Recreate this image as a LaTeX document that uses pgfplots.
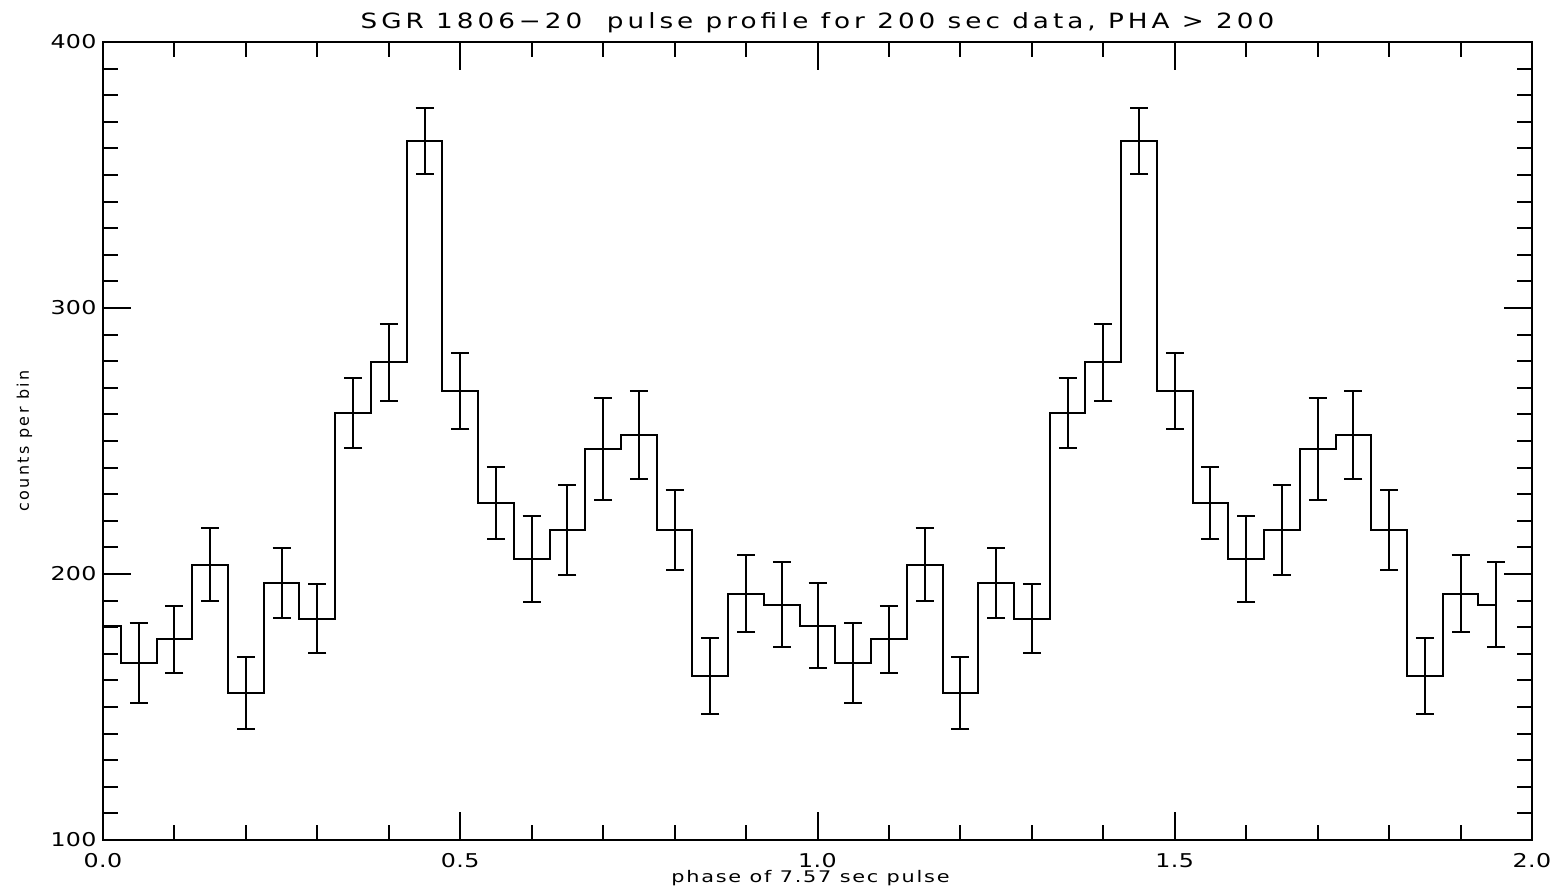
\documentclass[border=0pt]{standalone}
\usepackage{fontspec}
\usepackage{pgfplots}
\usepackage{pgfplotstable}
\pgfplotsset{compat=1.18}
\setmainfont{DejaVu Sans}
\newfontfamily\titlefont[FakeStretch=1.25, LetterSpace=19]{DejaVu Sans}
\newfontfamily\tickfont[FakeStretch=1.25, LetterSpace=2]{DejaVu Sans}
\newfontfamily\xlabfont[FakeStretch=1.3, LetterSpace=11]{DejaVu Sans}
\newfontfamily\ylabfont[LetterSpace=15]{DejaVu Sans}

% pulse profile, 20 bins per cycle, shown twice
\pgfplotstableread{
x    y      e
0.00 180.5  16.0
0.05 166.4  15.0
0.10 175.4  12.6
0.15 203.5  13.8
0.20 155.4  13.5
0.25 196.6  13.2
0.30 183.2  12.9
0.35 260.6  13.2
0.40 279.6  14.5
0.45 362.8  12.5
0.50 268.8  14.3
0.55 226.6  13.5
0.60 205.6  16.2
0.65 216.4  16.9
0.70 247.0  19.3
0.75 252.4  16.5
0.80 216.4  15.0
0.85 161.5  14.3
0.90 192.6  14.5
0.95 188.5  15.9
1.00 180.5  16.0
1.05 166.4  15.0
1.10 175.4  12.6
1.15 203.5  13.8
1.20 155.4  13.5
1.25 196.6  13.2
1.30 183.2  12.9
1.35 260.6  13.2
1.40 279.6  14.5
1.45 362.8  12.5
1.50 268.8  14.3
1.55 226.6  13.5
1.60 205.6  16.2
1.65 216.4  16.9
1.70 247.0  19.3
1.75 252.4  16.5
1.80 216.4  15.0
1.85 161.5  14.3
1.90 192.6  14.5
1.95 188.5  15.9
}\prof

\begin{document}
\begin{tikzpicture}
\begin{axis}[
    scale only axis,
    width=714.5pt, height=399pt,
    xmin=0, xmax=2, ymin=100, ymax=400,
    axis line style={line width=1pt, black},
    every tick/.style={line width=1pt, black},
    tick align=inside,
    major tick length=14pt,
    minor tick length=7.5pt,
    xtick={0,0.5,1,1.5,2},
    xticklabels={0.0,0.5,1.0,1.5,2.0},
    minor x tick num=4,
    ytick={100,200,300,400},
    yticklabels={100,200,300,400},
    minor y tick num=9,
    /pgf/number format/assume math mode=true,
    x tick label style={font=\tickfont\fontsize{9.5}{11}\selectfont,
        inner sep=0pt, anchor=north, yshift=-6.5pt},
    y tick label style={font=\tickfont\fontsize{9.5}{11}\selectfont,
        inner sep=0pt, anchor=east, xshift=-3pt},
    title={SGR 1806−20\ \ pulse profile for 200 sec data, PHA > 200},
    title style={font=\titlefont\fontsize{10.5}{12}\selectfont,
        at={(axis description cs:0.5,1)}, anchor=base, yshift=1pt, inner sep=0pt},
    xlabel={phase of 7.57 sec pulse},
    xlabel style={font=\xlabfont\fontsize{8}{9}\selectfont,
        at={(axis description cs:0.5,0)}, anchor=base, yshift=-21pt, xshift=-3.5pt, inner sep=0pt},
    ylabel={counts per bin},
    ylabel style={font=\ylabfont\fontsize{8}{9}\selectfont,
        at={(axis description cs:-0.0549,0.5)}, anchor=center, inner sep=0pt},
]
\addplot[const plot mark mid, black, line width=1pt, mark=none] table[x=x, y=y] {\prof};
\addplot[draw=none, mark=none, restrict x to domain=0.01:2,
    error bars/.cd, y dir=both, y explicit,
    error bar style={draw=black, solid, line width=1pt},
    error mark options={rotate=90, draw=black, solid, line width=1pt, mark size=4.5pt}]
    table[x=x, y=y, y error=e] {\prof};
\end{axis}
\pgfresetboundingbox
\path (-51.5pt,-27.5pt) rectangle (725.5pt,420pt);
\end{tikzpicture}
\end{document}
